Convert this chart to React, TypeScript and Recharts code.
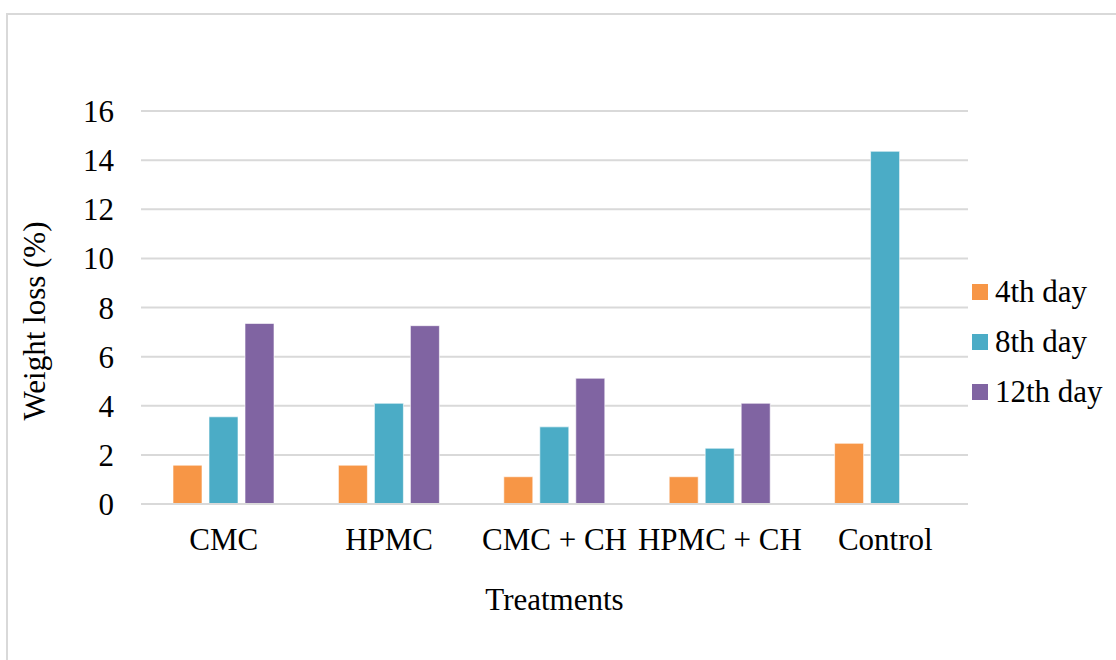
import React from "react";
import { BarChart, Bar, XAxis, YAxis, CartesianGrid, Label } from "recharts";

const categories = ["CMC", "HPMC", "CMC + CH", "HPMC + CH", "Control"];
const day4 = [1.58, 1.58, 1.11, 1.11, 2.47];
const day8 = [3.55, 4.1, 3.14, 2.27, 14.36];
const day12 = [7.35, 7.26, 5.12, 4.1, null];
const yTicks = [0, 2, 4, 6, 8, 10, 12, 14, 16];

const seriesNames = ["4th day", "8th day", "12th day"];
const seriesKeys = ["d4", "d8", "d12"];
const seriesColors = ["#F79646", "#4BACC6", "#8064A2"];

const data = categories.map((c, i) => ({
  name: c,
  d4: day4[i],
  d8: day8[i],
  d12: day12[i],
}));

const FONT = "'Liberation Serif', 'Times New Roman', serif";
const FS = 31;

export default function App() {
  return (
    <div
      style={{
        position: "absolute",
        left: 0,
        top: 0,
        width: 1116,
        height: 660,
        background: "#fff",
        fontFamily: FONT,
        overflow: "hidden",
      }}
    >
      <div
        style={{
          position: "absolute",
          left: 6,
          top: 13,
          width: 1200,
          height: 700,
          borderTop: "2px solid #d9d9d9",
          borderLeft: "2px solid #d9d9d9",
        }}
      />
      <div style={{ position: "absolute", left: 0, top: 0 }}>
        <BarChart
          width={1116}
          height={660}
          data={data}
          margin={{ top: 111, right: 148, bottom: 50, left: 0 }}
          barSize={29}
          barGap={7}
        >
          <CartesianGrid vertical={false} stroke="#d9d9d9" strokeWidth={2} />
          <XAxis
            dataKey="name"
            height={106}
            tickLine={false}
            axisLine={{ stroke: "#d9d9d9", strokeWidth: 2 }}
            tickSize={0}
            tickMargin={24}
            interval={0}
            tick={{ fill: "#000", fontSize: FS, fontFamily: FONT }}
          >
            <Label
              value="Treatments"
              position="insideBottom"
              offset={0}
              style={{ fill: "#000", fontSize: FS, fontFamily: FONT }}
            />
          </XAxis>
          <YAxis
            width={141}
            domain={[0, 16]}
            ticks={yTicks}
            interval={0}
            tickLine={false}
            axisLine={false}
            tickSize={0}
            tickMargin={27}
            tick={{ fill: "#000", fontSize: FS, fontFamily: FONT }}
          >
            <Label
              content={() => (
                <text
                  transform="translate(34,321) rotate(-90)"
                  textAnchor="middle"
                  dominantBaseline="central"
                  style={{ fill: "#000", fontSize: FS, fontFamily: FONT }}
                >
                  Weight loss (%)
                </text>
              )}
            />
          </YAxis>
          {seriesKeys.map((k, i) => (
            <Bar
              key={k}
              dataKey={k}
              name={seriesNames[i]}
              fill={seriesColors[i]}
              stroke="rgba(255,255,255,0.6)"
              strokeWidth={1}
              isAnimationActive={false}
            />
          ))}
        </BarChart>
      </div>
      <div style={{ position: "absolute", left: 972, top: 267 }}>
        {seriesNames.map((n, i) => (
          <div
            key={n}
            style={{
              display: "flex",
              alignItems: "center",
              height: 50,
              fontSize: FS,
              color: "#000",
              whiteSpace: "nowrap",
            }}
          >
            <span
              style={{
                display: "inline-block",
                width: 16,
                height: 16,
                background: seriesColors[i],
                marginRight: 7,
              }}
            />
            {n}
          </div>
        ))}
      </div>
    </div>
  );
}
